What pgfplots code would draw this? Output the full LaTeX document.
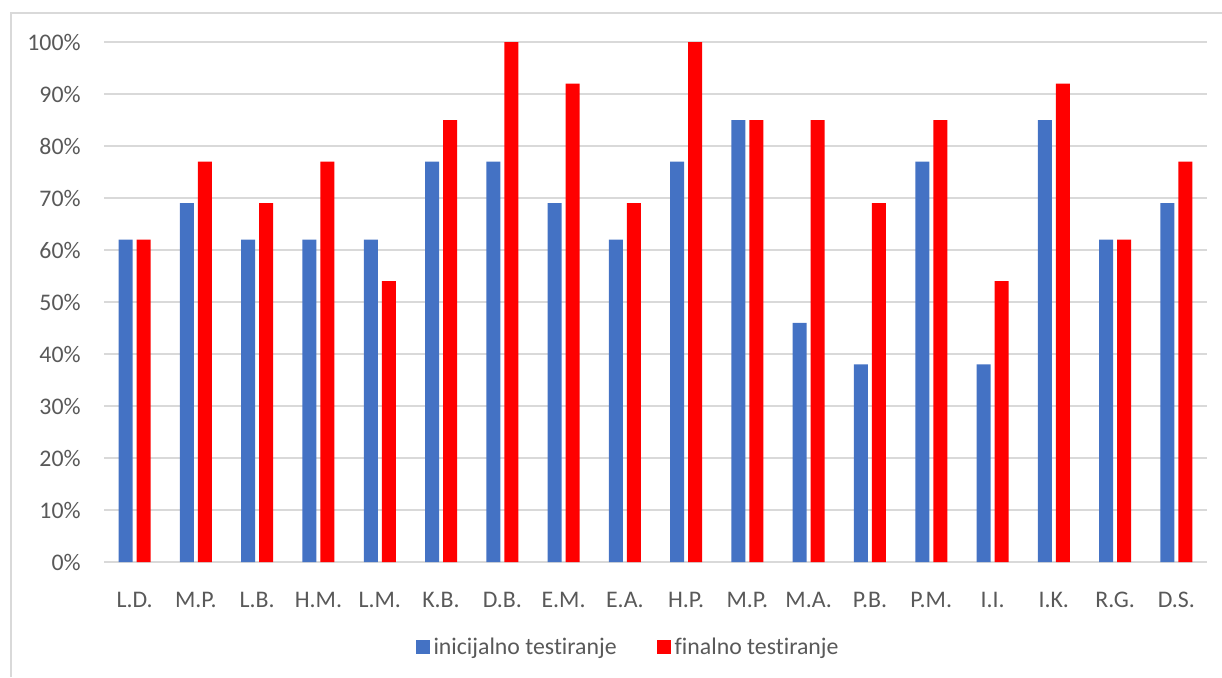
\documentclass[border=0pt]{standalone}
\usepackage{pgfplots}
\pgfplotsset{compat=1.18}
\usepackage{fontspec}
\setmainfont{Carlito}[Ligatures=NoCommon]
\definecolor{xblue}{HTML}{4472C4}
\definecolor{xred}{HTML}{FF0000}
\definecolor{xgrid}{HTML}{D9D9D9}
\definecolor{xtext}{HTML}{595959}
\begin{document}
\begin{tikzpicture}
\useasboundingbox (0,0) rectangle (611pt,338.5pt);
\draw[xgrid,line width=1pt] (5.5pt,0pt) -- (5.5pt,332pt) -- (611pt,332pt);
\begin{axis}[
  at={(52pt,57.5pt)}, anchor=south west,
  scale only axis, width=551.5pt, height=260pt,
  ybar=2pt, bar width=7pt,
  xmin=-0.5, xmax=17.5, ymin=0, ymax=100,
  xtick={0,...,17},
  xticklabels={L.D.,M.P.,L.B.,H.M.,L.M.,K.B.,D.B.,E.M.,E.A.,H.P.,M.P.,M.A.,P.B.,P.M.,I.I.,I.K.,R.G.,D.S.},
  ytick={0,10,...,100},
  yticklabels={0\%,10\%,20\%,30\%,40\%,50\%,60\%,70\%,80\%,90\%,100\%},
  axis line style={draw=none}, tick style={draw=none},
  ymajorgrids, major grid style={xgrid, line width=0.7pt},
  font=\fontsize{11.9}{14}\selectfont, 
  ticklabel style={text=xtext, font=\fontsize{11.9}{14}\selectfont},
  xticklabel style={inner sep=0pt, anchor=north, yshift=-10.5pt},
  yticklabel style={inner sep=0pt, anchor=east, xshift=-11.5pt},
  legend columns=2,
  legend style={draw=none, at={(0.476,-0.164)}, anchor=center, text=xtext,
    font=\fontsize{11.9}{14}\selectfont,
    /tikz/every even column/.append style={column sep=18pt}},
  legend image code/.code={\fill[#1,draw=none] (0pt,-3.5pt) rectangle (7pt,3.5pt);},
]
\addplot[fill=xblue, draw=none] coordinates {(0,62) (1,69) (2,62) (3,62) (4,62) (5,77) (6,77) (7,69) (8,62) (9,77) (10,85) (11,46) (12,38) (13,77) (14,38) (15,85) (16,62) (17,69)};
\addplot[fill=xred, draw=none] coordinates {(0,62) (1,77) (2,69) (3,77) (4,54) (5,85) (6,100) (7,92) (8,69) (9,100) (10,85) (11,85) (12,69) (13,85) (14,54) (15,92) (16,62) (17,77)};
\legend{inicijalno testiranje, finalno testiranje}
\end{axis}
\end{tikzpicture}
\end{document}
